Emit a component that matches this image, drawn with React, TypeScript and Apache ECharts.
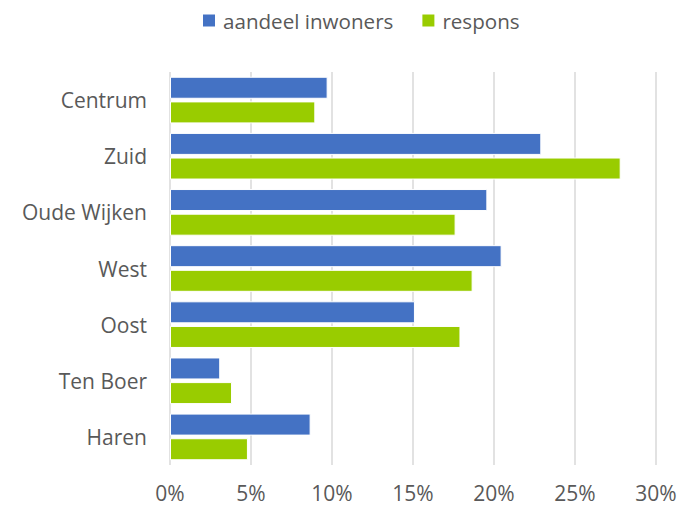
import React, { useEffect, useRef } from "react";
import * as echarts from "echarts";

const categories = ["Centrum", "Zuid", "Oude Wijken", "West", "Oost", "Ten Boer", "Haren"];
const aandeelInwoners = [9.73, 22.92, 19.59, 20.47, 15.12, 3.1, 8.68];
const respons = [8.97, 27.82, 17.63, 18.68, 17.93, 3.83, 4.81];
const seriesNames = ["aandeel inwoners", "respons"];

const FONT = "'Open Sans', sans-serif";
const TEXT = "#595959";

export default function App() {
  const ref = useRef<HTMLDivElement>(null);
  useEffect(() => {
    if (!ref.current) return;
    const chart = echarts.init(ref.current, null, { renderer: "svg" });
    chart.setOption({
      animation: false,
      backgroundColor: "#ffffff",
      legend: {
        top: 5,
        left: 196,
        itemWidth: 14,
        itemHeight: 14,
        itemGap: 27,
        icon: "rect",
        textStyle: { color: TEXT, fontSize: 20.6, fontFamily: FONT, padding: [0, 0, 0, 2] },
        data: seriesNames,
      },
      grid: { left: 170, right: 25, top: 72, bottom: 43, containLabel: false },
      xAxis: {
        type: "value",
        min: 0,
        max: 30,
        interval: 5,
        axisLine: { show: false },
        axisTick: { show: false },
        axisLabel: {
          formatter: "{value}%",
          color: TEXT,
          fontSize: 21,
          fontFamily: FONT,
          margin: 17,
        },
        splitLine: { show: true, lineStyle: { color: "#d9d9d9", width: 1.5 } },
      },
      yAxis: {
        type: "category",
        inverse: true,
        data: categories,
        axisLine: { show: false },
        axisTick: { show: false },
        axisLabel: { color: TEXT, fontSize: 21, fontFamily: FONT, margin: 23 },
      },
      series: [
        {
          name: seriesNames[0],
          type: "bar",
          data: aandeelInwoners,
          barWidth: 22,
          barGap: "12%",
          itemStyle: { color: "#4472C4", borderColor: "#ffffff", borderWidth: 1 },
        },
        {
          name: seriesNames[1],
          type: "bar",
          data: respons,
          barWidth: 22,
          barGap: "12%",
          itemStyle: { color: "#99CC00", borderColor: "#ffffff", borderWidth: 1 },
        },
      ],
    });
    return () => chart.dispose();
  }, []);
  return (
    <div
      ref={ref}
      style={{ position: "fixed", left: 0, top: 0, width: 681, height: 508 }}
    />
  );
}
